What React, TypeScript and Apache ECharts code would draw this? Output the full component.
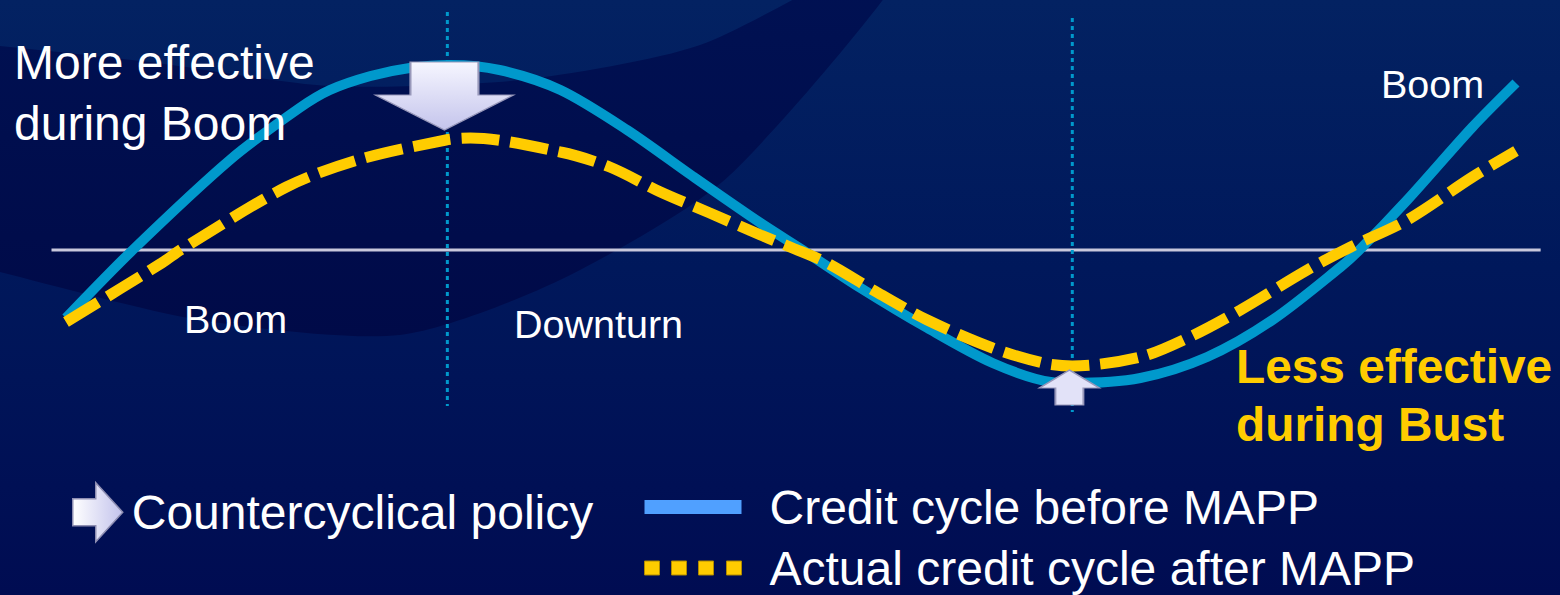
import React, { useEffect, useRef } from "react";
import * as echarts from "echarts";

// Position in the cycle (0 = start of boom, 100 = next boom) and credit gap vs trend (0 = trend)
const cycleBeforeMapp: number[][] = [
  [0, -34], [4.6, 0], [11.3, 45], [16.1, 71], [18.2, 80], [21.0, 87], [23.7, 91],
  [26.5, 92.5], [29.9, 90], [34.1, 80], [38.7, 60], [43.2, 37], [47.9, 13.5], [50.8, 0],
  [54.8, -19], [59.4, -39], [63.9, -56.5], [67.9, -66], [69.4, -66.5], [74.1, -64],
  [78.7, -53.5], [83.2, -35], [87.9, -8.5], [89.2, 0], [92.5, 25], [97.0, 61.5], [100, 83.5],
];

const cycleAfterMapp: number[][] = [
  [0, -36], [6.6, -6.5], [8.0, 0.5], [15.2, 31.5], [20.1, 45], [26.2, 55], [27.9, 56],
  [34.1, 49], [37.5, 41.5], [41.0, 29], [44.4, 18.5], [47.9, 7.5], [50.1, 1], [52.5, -6.5],
  [55.9, -21], [59.4, -35], [63.9, -49], [67.4, -56.5], [69.4, -58], [74.1, -53.5],
  [77.5, -43.5], [81.0, -30], [85.6, -10], [88.6, 1.5], [92.5, 15], [97.0, 36.5], [100, 49.5],
];

const trendLine: number[][] = [[-1, 0], [101.7, 0]];
const peakDivider: number[][] = [[26.3, 119], [26.3, -78]];
const troughDivider: number[][] = [[69.4, 116], [69.4, -81]];
const policyPoints: number[][] = [[26.1, 77], [69.2, -68.75]];

const seriesNames = ["Countercyclical policy", "Credit cycle before MAPP", "Actual credit cycle after MAPP"];
const phaseLabels = ["Boom", "Downturn", "Boom"];
const noteBoom = "More effective\nduring Boom";
const noteBust = "Less effective\nduring Bust";

const FONT = '"Liberation Sans", Arial, Helvetica, sans-serif';

const downArrow = "path://M35,0H103V33H138L69,68L0,33H35Z";
const upArrow = "path://M30,0L60,18H44V35H16V18H0Z";
const rightArrow = "path://M0,16H23V0L50,29.5L23,59V43H0Z";
const dashIcon = "path://M0,0h15v14h-15zM27,0h15v14h-15zM54,0h15v14h-15zM82,0h15v14h-15z";

export default function App() {
  const ref = useRef<HTMLDivElement>(null);

  useEffect(() => {
    if (!ref.current) return;
    const chart = echarts.init(ref.current, undefined, { renderer: "svg" });

    const arrowFill = new echarts.graphic.LinearGradient(0, 0, 0, 1, [
      { offset: 0, color: "#F6F6FF" },
      { offset: 1, color: "#C4C4EC" },
    ]);
    const legendArrowFill = new echarts.graphic.LinearGradient(0, 0, 1, 0, [
      { offset: 0, color: "#FFFFFF" },
      { offset: 1, color: "#C2C2EC" },
    ]);

    chart.setOption({
      animation: false,
      backgroundColor: "#00124F",
      grid: { left: 37, right: 15, top: 0, bottom: 145, containLabel: false },
      xAxis: { type: "value", min: -2, max: 102, show: false },
      yAxis: { type: "value", min: -100, max: 125, show: false },
      legend: [
        {
          data: [{ name: seriesNames[0], icon: rightArrow, itemStyle: { color: legendArrowFill, borderColor: "#8E8EB2", borderWidth: 1.5 } }],
          left: 72,
          top: 482,
          padding: 0,
          itemWidth: 50,
          itemHeight: 59,
          selectedMode: false,
          textStyle: { color: "#FFFFFF", fontSize: 48, fontFamily: FONT, padding: [0, 0, 0, 4] },
        },
        {
          orient: "vertical",
          data: [
            { name: seriesNames[1], icon: "rect", itemStyle: { color: "#50A0FF", borderWidth: 0 } },
            { name: seriesNames[2], icon: dashIcon, itemStyle: { color: "#FFCC00", borderColor: "#B08A00", borderWidth: 1 } },
          ],
          left: 644,
          top: 483,
          padding: 0,
          itemWidth: 97,
          itemHeight: 14,
          itemGap: 13,
          selectedMode: false,
          textStyle: { color: "#FFFFFF", fontSize: 48, lineHeight: 40, fontFamily: FONT, padding: [8, 0, 0, 23] },
        },
      ],
      graphic: [
        {
          type: "rect",
          z: -30,
          silent: true,
          shape: { x: 0, y: 0, width: 1560, height: 595 },
          style: {
            fill: new echarts.graphic.LinearGradient(0, 0, 0, 1, [
              { offset: 0, color: "#032262" },
              { offset: 0.45, color: "#00185B" },
              { offset: 1, color: "#000C52" },
            ]),
          },
        },
        {
          type: "polygon",
          z: -20,
          silent: true,
          shape: {
            points: [
              [-80, 40], [0, 46], [150, 62], [330, 86], [520, 80], [700, 45], [920, -60],
              [730, 175], [560, 280], [400, 335], [200, 320], [0, 272], [-80, 250],
            ],
            smooth: 0.25,
          },
          style: {
            fill: new echarts.graphic.LinearGradient(0, 0, 0, 1, [
              { offset: 0, color: "#001254" },
              { offset: 1, color: "#000A48" },
            ]),
          },
        },
        {
          type: "text",
          z: 100,
          silent: true,
          x: 14,
          y: 32,
          style: { text: noteBoom, fill: "#FFFFFF", font: `48px ${FONT}`, lineHeight: 61, verticalAlign: "top", align: "left" },
        },
        {
          type: "text",
          z: 100,
          silent: true,
          x: 184,
          y: 319,
          style: { text: phaseLabels[0], fill: "#FFFFFF", font: `39.5px ${FONT}`, verticalAlign: "middle", align: "left" },
        },
        {
          type: "text",
          z: 100,
          silent: true,
          x: 514,
          y: 324,
          style: { text: phaseLabels[1], fill: "#FFFFFF", font: `39.5px ${FONT}`, verticalAlign: "middle", align: "left" },
        },
        {
          type: "text",
          z: 100,
          silent: true,
          x: 1381,
          y: 84,
          style: { text: phaseLabels[2], fill: "#FFFFFF", font: `39.5px ${FONT}`, verticalAlign: "middle", align: "left" },
        },
        {
          type: "text",
          z: 100,
          silent: true,
          x: 1236,
          y: 337,
          style: { text: noteBust, fill: "#FFCC00", font: `bold 47.8px ${FONT}`, lineHeight: 58, verticalAlign: "top", align: "left" },
        },
      ],
      series: [
        {
          name: "trend",
          type: "line",
          data: trendLine,
          symbol: "none",
          silent: true,
          z: 1,
          lineStyle: { color: "#C8C8DC", width: 3 },
        },
        {
          name: "peak",
          type: "line",
          data: peakDivider,
          symbol: "none",
          silent: true,
          z: 2,
          lineStyle: { color: "#0099CC", width: 3, type: [4, 4] },
        },
        {
          name: "trough",
          type: "line",
          data: troughDivider,
          symbol: "none",
          silent: true,
          z: 2,
          lineStyle: { color: "#0099CC", width: 3, type: [4, 4] },
        },
        {
          name: seriesNames[1],
          type: "line",
          data: cycleBeforeMapp,
          smooth: 0.3,
          symbol: "none",
          silent: true,
          z: 3,
          itemStyle: { color: "#0099CC" },
          lineStyle: { color: "#0099CC", width: 10, cap: "butt" },
        },
        {
          name: seriesNames[2],
          type: "line",
          data: cycleAfterMapp,
          smooth: 0.3,
          symbol: "none",
          silent: true,
          z: 4,
          itemStyle: { color: "#FFCC00" },
          lineStyle: { color: "#FFCC00", width: 11, type: [38, 11], cap: "butt" },
        },
        {
          name: seriesNames[0],
          type: "scatter",
          silent: true,
          clip: false,
          z: 6,
          itemStyle: { color: arrowFill, borderColor: "#9898BA", borderWidth: 1.5, opacity: 1 },
          data: [
            { value: policyPoints[0], symbol: downArrow, symbolSize: [138, 68] },
            { value: policyPoints[1], symbol: upArrow, symbolSize: [60, 35], itemStyle: { color: "#E2E2F8" } },
          ],
        },
      ],
    });

    return () => chart.dispose();
  }, []);

  return <div ref={ref} style={{ position: "absolute", left: 0, top: 0, width: 1560, height: 595 }} />;
}
